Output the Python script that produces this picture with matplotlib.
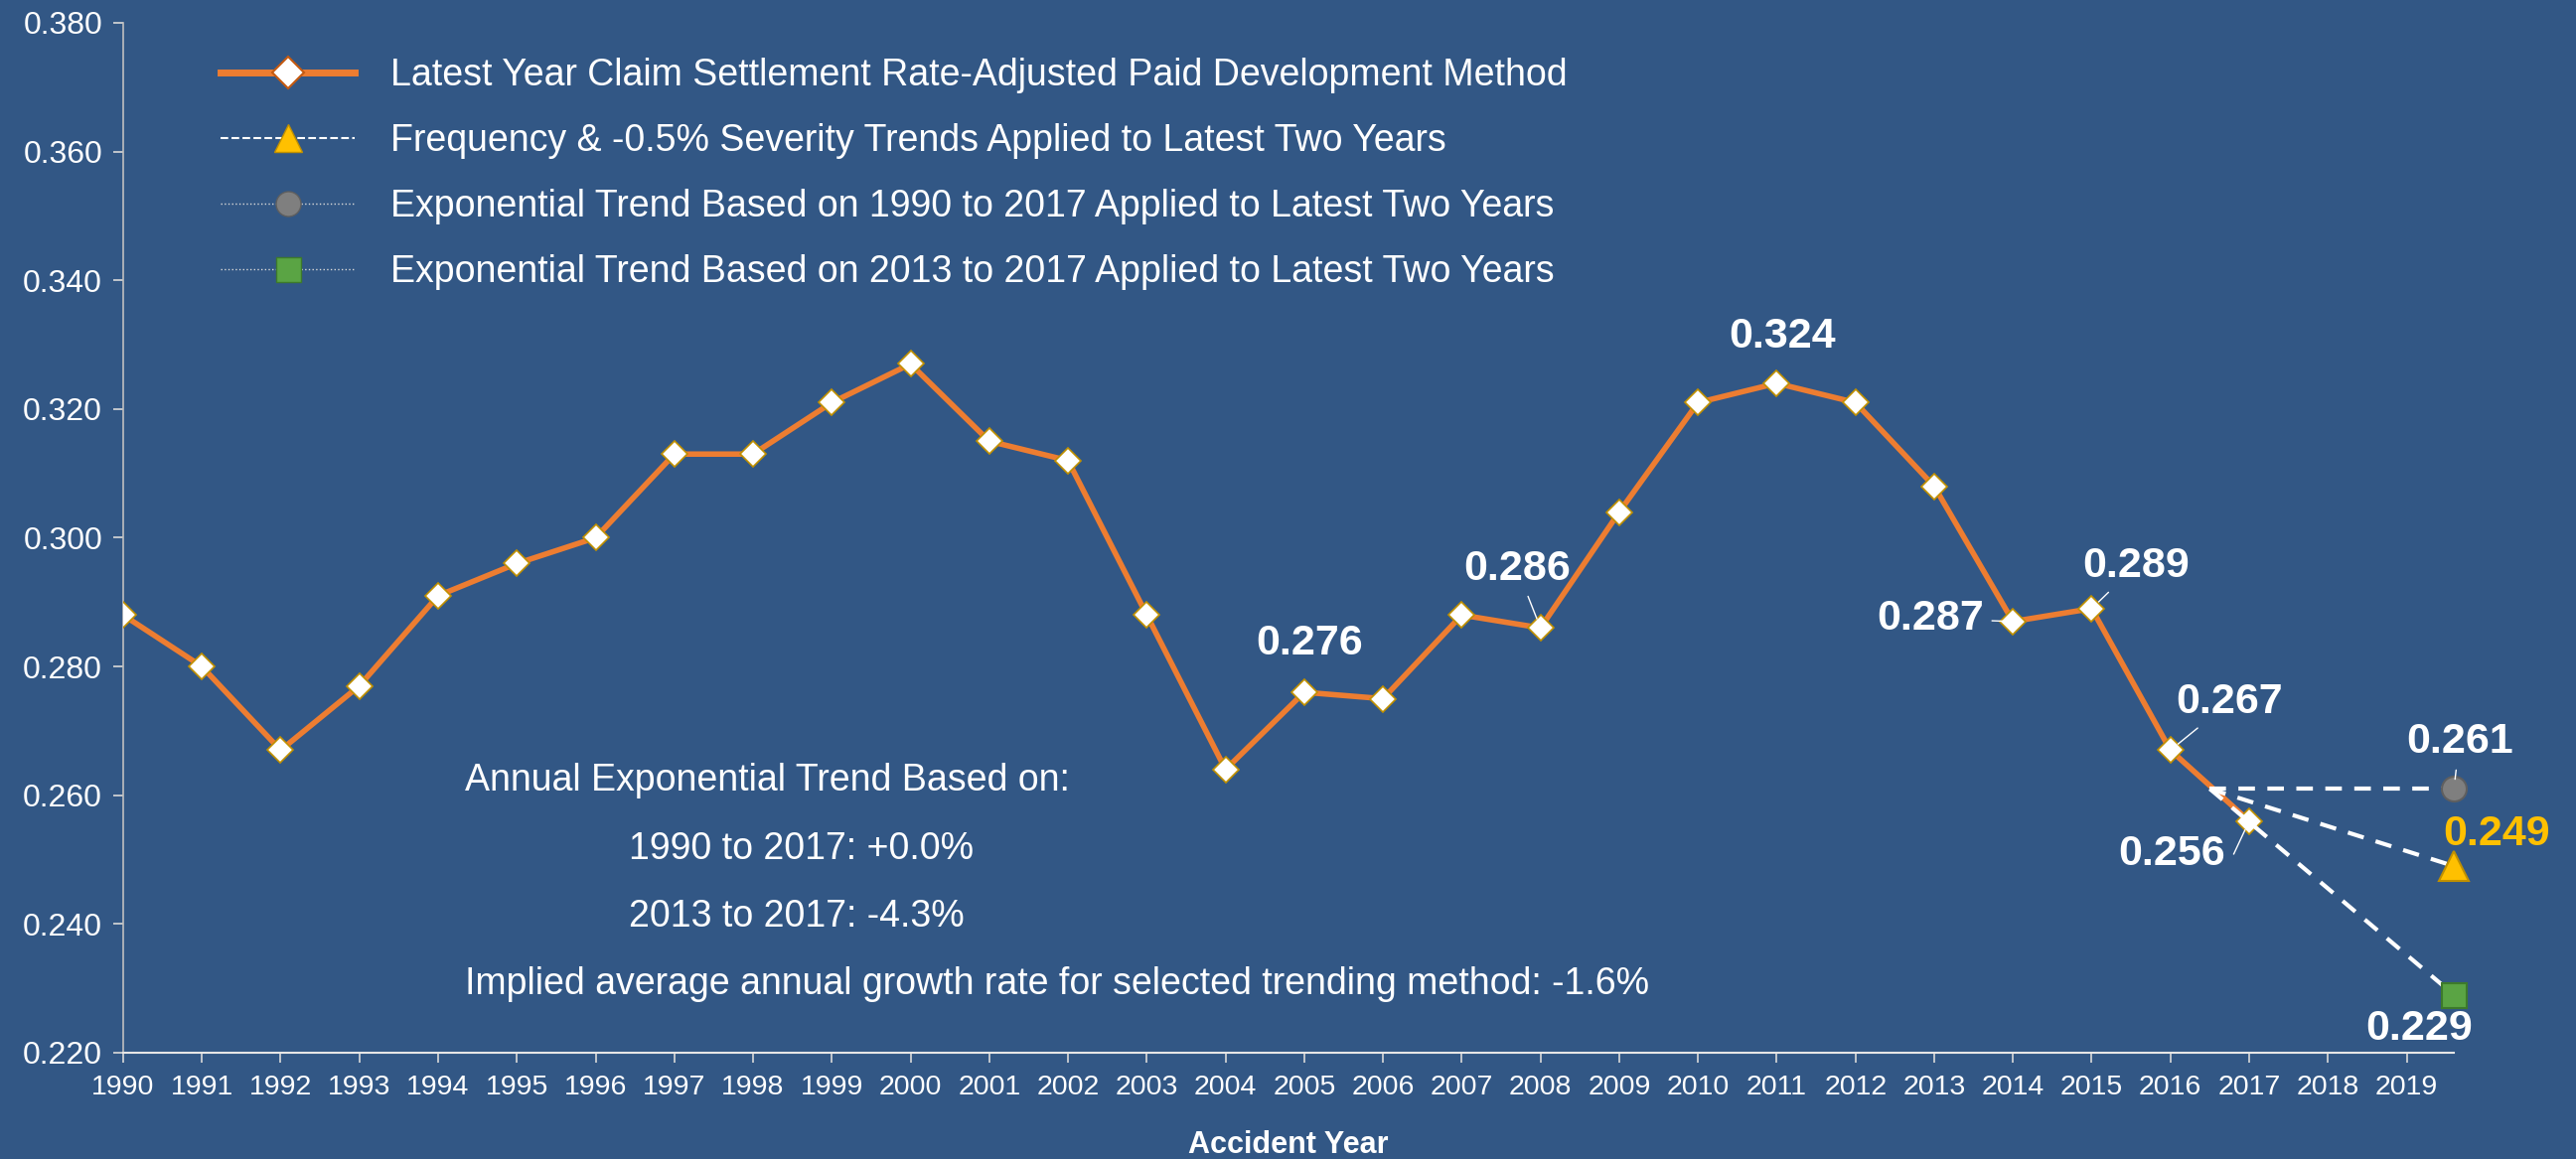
import matplotlib
matplotlib.use('Agg')
import matplotlib.pyplot as plt
from matplotlib.lines import Line2D

plt.rcParams['font.family'] = ['Liberation Sans', 'DejaVu Sans']

# data
years = list(range(1990, 2018))
rates = [0.288, 0.280, 0.267, 0.277, 0.291, 0.296, 0.300, 0.313, 0.313, 0.321,
         0.327, 0.315, 0.312, 0.288, 0.264, 0.276, 0.275, 0.288, 0.286, 0.304,
         0.321, 0.324, 0.321, 0.308, 0.287, 0.289, 0.267, 0.256]

# projections for latest two years (drawn at the right edge)
trend_origin_x = 2016.5
trend_origin_y = 0.261
proj_x = 2019.6
freq_sev = 0.249
trend_1990 = 0.261
trend_2013 = 0.229

tick_years = list(range(1990, 2020))
y_ticks = [0.220, 0.240, 0.260, 0.280, 0.300, 0.320, 0.340, 0.360, 0.380]

legend_labels = ['Latest Year Claim Settlement Rate-Adjusted Paid Development Method',
                 'Frequency & -0.5% Severity Trends Applied to Latest Two Years',
                 'Exponential Trend Based on 1990 to 2017 Applied to Latest Two Years',
                 'Exponential Trend Based on 2013 to 2017 Applied to Latest Two Years']

notes = ['Annual Exponential Trend Based on:',
         '1990 to 2017: +0.0%',
         '2013 to 2017: -4.3%',
         'Implied average annual growth rate for selected trending method: -1.6%']

bg = '#325785'
orange = '#ED7D31'
gold = '#FFC000'
grey = '#7F7F7F'
green = '#5AA444'

fig = plt.figure(figsize=(25.93, 11.67), dpi=100)
fig.patch.set_facecolor(bg)
ax = fig.add_axes([0.0478, 0.0917, 0.9048, 0.8886])
ax.set_facecolor(bg)

# main series
ax.plot(years, rates, color=orange, lw=4, zorder=3,
        marker='D', markersize=13.5, markerfacecolor='white',
        markeredgecolor='#C09000', markeredgewidth=1.2)

# dashed projections
for v in [trend_1990, freq_sev, trend_2013]:
    ax.plot([trend_origin_x, proj_x], [trend_origin_y, v], color='white',
            lw=3, dashes=(4, 3), zorder=4, clip_on=False)

ax.plot([proj_x], [trend_1990], 'o', ms=18, color=grey, mec='#5F5F5F', mew=1.5,
        zorder=5, clip_on=False)
ax.plot([proj_x], [freq_sev], '^', ms=21, color=gold, mec='#C09000', mew=1.5,
        zorder=5, clip_on=False)
ax.plot([proj_x], [trend_2013], 's', ms=18, color=green, mec='#3D7A2B', mew=1.5,
        zorder=5, clip_on=False)

# value labels
lab = dict(color='white', fontsize=31, fontweight='bold', ha='center', va='center',
           textcoords='offset points', annotation_clip=False, zorder=6)
lead = dict(arrowstyle='-', color='white', lw=1, shrinkA=4, shrinkB=7)

ax.annotate('0.276', xy=(2005, rates[15]), xytext=(4, 35), **lab)
ax.annotate('0.324', xy=(2011, rates[21]), xytext=(4, 34), **lab)
ax.annotate('0.286', xy=(2008, rates[18]), xytext=(-17, 43), arrowprops=lead, **lab)
ax.annotate('0.287', xy=(2014, rates[24]), xytext=(-60, 2), arrowprops=lead, **lab)
ax.annotate('0.289', xy=(2015, rates[25]), xytext=(32, 31), arrowprops=lead, **lab)
ax.annotate('0.267', xy=(2016, rates[26]), xytext=(43, 35), arrowprops=lead, **lab)
ax.annotate('0.256', xy=(2017, rates[27]), xytext=(-56, -24),
            arrowprops=dict(lead, connectionstyle='angle,angleA=0,angleB=65,rad=0'), **lab)
ax.annotate('0.261', xy=(proj_x, trend_1990), xytext=(4, 34), arrowprops=lead, **lab)
ax.annotate('0.249', xy=(proj_x, freq_sev), xytext=(31, 23), **dict(lab, color=gold))
ax.annotate('0.229', xy=(proj_x, trend_2013), xytext=(-25, -25), **lab)

# notes
ax.text(0.1466, 0.264, notes[0], transform=ax.transAxes, color='white', fontsize=27, va='center')
ax.text(0.217, 0.198, notes[1], transform=ax.transAxes, color='white', fontsize=27, va='center')
ax.text(0.217, 0.132, notes[2], transform=ax.transAxes, color='white', fontsize=27, va='center')
ax.text(0.1466, 0.0665, notes[3], transform=ax.transAxes, color='white', fontsize=27, va='center')

# axes
ax.set_xlim(1990, proj_x)
ax.set_ylim(0.22, 0.38)
ax.set_xticks(tick_years)
ax.set_xticklabels([str(y) for y in tick_years])
ax.set_yticks(y_ticks)
ax.set_yticklabels(['%.3f' % v for v in y_ticks])
ax.tick_params(axis='x', colors='#D9D9D9', labelcolor='white', labelsize=20.5,
               length=7, width=1.2, pad=9)
ax.tick_params(axis='y', colors='#D9D9D9', labelcolor='white', labelsize=23,
               length=7, width=1.2, pad=8)
for s in ['top', 'right']:
    ax.spines[s].set_visible(False)
ax.spines['left'].set_color('#BFBFBF')
ax.spines['bottom'].set_color('#E6E6E6')
ax.spines['left'].set_linewidth(1.2)
ax.spines['bottom'].set_linewidth(1.5)

fig.text(0.5, 0.012, 'Accident Year', color='white', fontsize=22, fontweight='bold',
         ha='center', va='center')

# legend
handles = [
    Line2D([], [], color=orange, lw=5, marker='D', ms=16, mfc='white', mec='#C55A11', mew=1.5),
    Line2D([], [], color='white', lw=1.5, ls='--', marker='^', ms=20, mfc=gold, mec='#C09000'),
    Line2D([], [], color='#D9D9D9', lw=1, ls=':', marker='o', ms=18, mfc=grey, mec='#5F5F5F'),
    Line2D([], [], color='#D9D9D9', lw=1, ls=':', marker='s', ms=18, mfc=green, mec='#3D7A2B'),
]
leg = ax.legend(handles, legend_labels, loc='upper left', bbox_to_anchor=(0.042, 0.966),
                frameon=False, fontsize=27, labelcolor='white', borderaxespad=0, borderpad=0,
                handlelength=3.6, handletextpad=0.95, labelspacing=0.8)

fig.savefig('out.png', dpi=100, facecolor=bg)
